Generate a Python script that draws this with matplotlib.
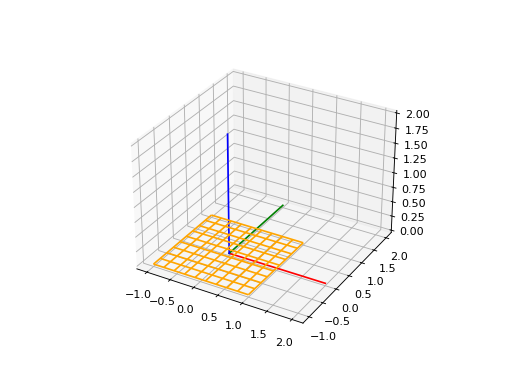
import numpy as np
import matplotlib
matplotlib.use('Agg')
import matplotlib.pyplot as plt

grid_x = [-1.0, -0.778, -0.556, -0.333, -0.111, 0.111, 0.333, 0.556, 0.778, 1.0]
grid_y = [-1.0, -0.778, -0.556, -0.333, -0.111, 0.111, 0.333, 0.556, 0.778, 1.0]
grid_z = 0.0
axis_x = [0, 2]
axis_y = [0, 2]
axis_z = [0, 2]

fig = plt.figure(figsize=(6.4, 4.8), dpi=80)
ax = fig.add_subplot(projection='3d')
X, Y = np.meshgrid(grid_x, grid_y)
Z = np.full_like(X, grid_z)
ax.plot_wireframe(X, Y, Z, color='orange')
ax.plot(axis_x, [0, 0], [0, 0], color='red')
ax.plot([0, 0], axis_y, [0, 0], color='green')
ax.plot([0, 0], [0, 0], axis_z, color='blue')
fig.savefig('out.png', dpi=80)
